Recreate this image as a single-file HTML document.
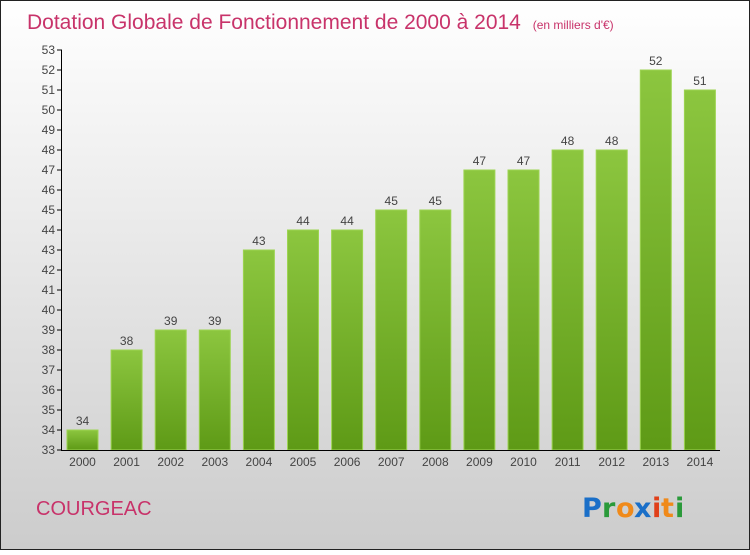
<!DOCTYPE html>
<html><head><meta charset="utf-8"><style>
body{margin:0;width:750px;height:550px;overflow:hidden;font-family:"Liberation Sans",sans-serif}
</style></head><body>
<svg id="c" width="750" height="550" xmlns="http://www.w3.org/2000/svg">
<defs>
<linearGradient id="bg" x1="0" y1="0" x2="0" y2="1"><stop offset="0" stop-color="#ffffff"/><stop offset="1" stop-color="#cccccc"/></linearGradient>
<linearGradient id="bar" x1="0" y1="0" x2="0" y2="1"><stop offset="0" stop-color="#8cc63f"/><stop offset="1" stop-color="#5e9a16"/></linearGradient>
</defs>
<rect x="0.5" y="0.5" width="749" height="549" fill="url(#bg)" stroke="#222"/>
<text x="27" y="29" font-size="21" fill="#c8336a">Dotation Globale de Fonctionnement de 2000 à 2014 <tspan font-size="12" dx="6">(en milliers d'€)</tspan></text>
<text x="36" y="515" font-size="20" fill="#c8336a">COURGEAC</text>
<g font-size="27" font-weight="bold" font-family="'DejaVu Sans',sans-serif">
<text x="582" y="517" fill="#1a6fc8">P</text><text x="602" y="517" fill="#2a9a3a">r</text><text x="616" y="517" fill="#f08a1a">o</text><text x="634" y="517" fill="#1a6fc8">x</text><text x="652" y="517" fill="#e0401a">i</text><text x="661" y="517" fill="#f08a1a">t</text><text x="675" y="517" fill="#2a9a3a">i</text>
</g>
<g id="plot"></g>
</svg>
<script>
const categories=["2000","2001","2002","2003","2004","2005","2006","2007","2008","2009","2010","2011","2012","2013","2014"];
const values=[34,38,39,39,43,44,44,45,45,47,47,48,48,52,51];
const yTicks=[33,34,35,36,37,38,39,40,41,42,43,44,45,46,47,48,49,50,51,52,53];
const NS="http://www.w3.org/2000/svg";
const g=document.getElementById('plot');
const y=v=>450-(v-33)*20;
const x=i=>67+i*44.1;
function el(t,a){const e=document.createElementNS(NS,t);for(const k in a)e.setAttribute(k,a[k]);g.appendChild(e);return e;}
yTicks.forEach(v=>{
 const l=el('line',{x1:57,x2:62,y1:y(v),y2:y(v),stroke:'#000'});
 
 
 const t=el('text',{x:55,y:y(v)+4,'font-size':12,fill:'#444','text-anchor':'end'});t.textContent=v;
 
 
});
categories.forEach((c,i)=>{
 const b=el('rect',{x:x(i),y:y(values[i]),width:31,height:450-y(values[i]),fill:'url(#bar)',stroke:'#9dd452','stroke-width':1});
 
 
 const v=el('text',{x:x(i)+15.5,y:y(values[i])-5,'font-size':12,fill:'#444','text-anchor':'middle'});v.textContent=values[i];
 
 
 const t=el('text',{x:x(i)+15.5,y:466,'font-size':12,fill:'#444','text-anchor':'middle'});t.textContent=c;
 
 
});
const ya=el('line',{x1:61.5,x2:61.5,y1:50,y2:451,stroke:'#000'});


const xa=el('line',{x1:61,x2:720,y1:450.5,y2:450.5,stroke:'#000'});


</script>
</body></html>
